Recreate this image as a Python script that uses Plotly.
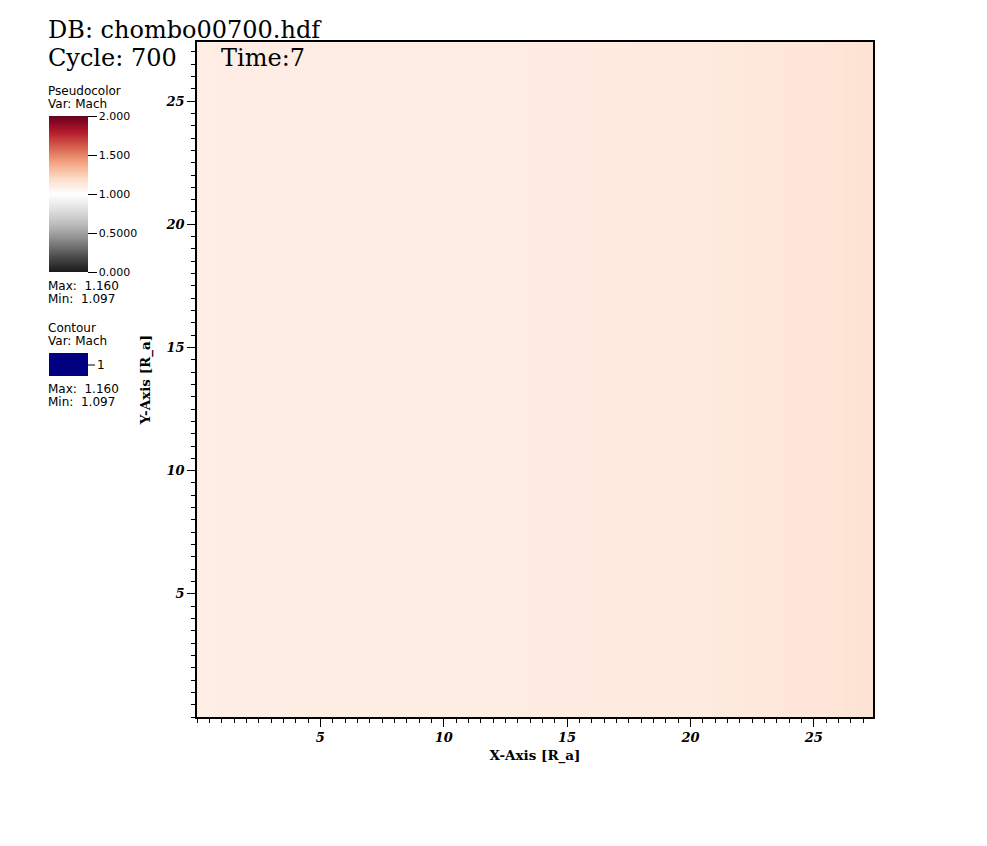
import plotly.graph_objects as go

# ---- data ----
x_centers = [0.0, 3.0, 6.0, 9.0, 12.0, 15.0, 17.0, 19.0, 21.0, 23.0, 25.0, 26.0, 27.0, 27.4]
mach_profile = [1.097, 1.098, 1.099, 1.100, 1.102, 1.104, 1.107, 1.113, 1.120, 1.128, 1.138, 1.145, 1.155, 1.160]
y_centers = [0.0, 27.4]
x_tick_vals = [5, 10, 15, 20, 25]
y_tick_vals = [5, 10, 15, 20, 25]
cbar_vals = [0, 0.5, 1.0, 1.5, 2.0]
cbar_text = ["0.000", "0.5000", "1.000", "1.500", "2.000"]
mach_max = "1.160"
mach_min = "1.097"
contour_level = "1"
domain_max = 27.4

# reversed RdGy colour table used for Mach
rdgy = [
    [0.0, "#1a1a1a"], [0.1, "#4d4d4d"], [0.2, "#878787"], [0.3, "#bababa"],
    [0.4, "#e0e0e0"], [0.5, "#ffffff"], [0.6, "#fddbc7"], [0.7, "#f4a582"],
    [0.8, "#d6604d"], [0.9, "#b2182b"], [1.0, "#67001f"],
]

OFF = 8  # page body margin
W, H = 987 - OFF, 846 - OFF
L, R, T, B = 197 - OFF, 873 - OFF, 42 - OFF, 717 - OFF


def px(xp):
    return (xp - OFF - L) / (R - L)


def py(yp):
    return (B - (yp - OFF)) / (B - T)


z = [list(mach_profile) for _ in y_centers]

fig = go.Figure()
fig.add_trace(go.Heatmap(
    x=x_centers, y=y_centers, z=z, zsmooth="best",
    zmin=0, zmax=2, colorscale=rdgy, hoverinfo="skip",
    colorbar=dict(
        x=px(49), xanchor="left", y=py(272), yanchor="bottom",
        len=156, lenmode="pixels", thickness=39, thicknessmode="pixels",
        xpad=0, ypad=0, outlinewidth=0,
        tickvals=cbar_vals, ticktext=cbar_text,
        ticks="outside", ticklen=9, tickcolor="black", tickwidth=1,
        tickfont=dict(family="DejaVu Sans", size=11, color="black"),
    ),
))

serif_tick = dict(family="DejaVu Serif", size=13, color="black", weight="bold", style="italic")
title_font = dict(family="DejaVu Serif", size=13.5, color="black", weight="bold")
axis_common = dict(
    showline=True, linecolor="black", linewidth=1.5, mirror=True,
    ticks="outside", ticklen=8, tickwidth=1, tickcolor="black",
    showgrid=False, zeroline=False, tickfont=serif_tick,
    minor=dict(dtick=0.5, tick0=0, ticks="outside", ticklen=4, tickcolor="black", tickwidth=1, showgrid=False),
)

fig.update_layout(
    width=W, height=H,
    margin=dict(l=L, r=W - R, t=T, b=H - B),
    paper_bgcolor="white", plot_bgcolor="white",
    xaxis=dict(range=[0, domain_max], tickvals=x_tick_vals,
               title=dict(text="X-Axis [R_a]", standoff=6, font=title_font),
               **axis_common),
    yaxis=dict(range=[0, domain_max], tickvals=y_tick_vals,
               title=dict(text="Y-Axis [R_a]", standoff=12, font=title_font),
               **axis_common),
)

big = dict(family="DejaVu Serif", size=24, color="black")
small = dict(family="DejaVu Sans", size=12, color="black")


def label(text, xp, yp, font, xanchor="left"):
    fig.add_annotation(text=text, x=px(xp), y=py(yp), xref="paper", yref="paper",
                       xanchor=xanchor, yanchor="middle", showarrow=False, font=font)


label("DB: chombo00700.hdf", 46, 30, big)
label("Cycle: 700", 46, 58, big)
label("Time:7", 219, 58, big)

label("Pseudocolor", 46, 91, small)
label("Var: Mach", 46, 104, small)
label("Max:  " + mach_max, 46, 286, small)
label("Min:  " + mach_min, 46, 299, small)

label("Contour", 46, 328, small)
label("Var: Mach", 46, 341, small)
label(contour_level, 95, 365, small)
label("Max:  " + mach_max, 46, 389, small)
label("Min:  " + mach_min, 46, 402, small)

fig.add_shape(type="rect", xref="paper", yref="paper",
              x0=px(49), x1=px(88), y0=py(376), y1=py(353),
              fillcolor="#000080", line=dict(width=0))
fig.add_shape(type="line", xref="paper", yref="paper",
              x0=px(88), x1=px(95), y0=py(365), y1=py(365),
              line=dict(color="black", width=1))

fig.write_html("out.html")
